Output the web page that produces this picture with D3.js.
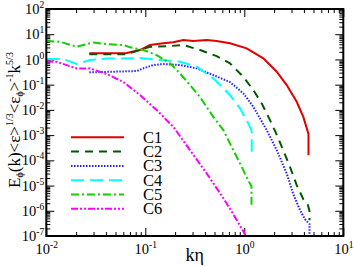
<!DOCTYPE html>
<html>
<head>
<meta charset="utf-8">
<script src="https://cdn.jsdelivr.net/npm/d3@7"></script>
<style>
  body { margin: 0; background: #fff; }
  text { font-family: "Liberation Serif", "Times New Roman", serif; }
</style>
</head>
<body>
<svg></svg>
<script>
const width = 354;
const height = 266;

// data (k eta, compensated spectrum)
const names = ["C1", "C2", "C3", "C4", "C5", "C6"];
const colors = ["#e00000", "#005a00", "#2020ff", "#00ffff", "#10d000", "#ff00ff"];
const dashes = ["none", "8,6", "1.5,1.5", "13,6", "8,3,2,3", "7,2,2,2,2,2"];

const c1k = [0.0272, 0.044, 0.0649, 0.0884, 0.1115, 0.152, 0.1918, 0.2419, 0.3053, 0.4171, 0.5262, 0.717, 1.057, 1.556, 2.125, 2.681, 3.383, 3.945, 4.33, 4.45, 4.45];
const c1e = [1.75, 1.75, 1.79, 2.36, 3.73, 4.35, 4.77, 5.89, 5.37, 5.89, 5.37, 4.35, 2.76, 1.106, 0.325, 0.0964, 0.021, 0.0053, 0.00158, 0.0011, 1.6e-4];

const c2k = [0.0272, 0.0639, 0.0787, 0.1115, 0.1776, 0.2419, 0.357, 0.526, 0.717, 0.977, 1.233, 1.499, 1.818, 2.09, 2.40, 2.894, 3.383, 3.945, 4.40, 4.556, 4.556];
const c2e = [1.59, 1.59, 2.06, 3.19, 3.40, 3.73, 2.36, 1.36, 0.70, 0.206, 0.0611, 0.0181, 0.00394, 0.0012, 3.34e-4, 5.52e-5, 1.04e-5, 2.89e-6, 1.67e-6, 9.64e-7, 4.23e-7];

const c3k = [0.0272, 0.0819, 0.0955, 0.1204, 0.152, 0.2241, 0.3305, 0.486, 0.717, 0.977, 1.233, 1.684, 2.125, 2.681, 3.126, 3.653, 4.104, 4.556, 4.556];
const c3e = [0.308, 0.347, 0.443, 0.60, 0.657, 0.60, 0.443, 0.240, 0.127, 0.0452, 0.0133, 0.00158, 2.54e-4, 3.02e-5, 4.56e-6, 1.06e-6, 4.64e-7, 2.94e-7, 1e-7];

const c4k = [0.01, 0.01475, 0.0203, 0.0276, 0.0408, 0.0595, 0.0884, 0.152, 0.2241, 0.3305, 0.486, 0.614, 0.717, 0.905, 1.098, 1.188, 1.188];
const c4e = [1.037, 1.037, 0.657, 0.947, 1.086, 1.086, 1.137, 0.947, 0.81, 0.513, 0.178, 0.0713, 0.0387, 0.0115, 0.00291, 0.00144, 2.17e-4];

const c5k = [0.01, 0.01375, 0.0203, 0.0298, 0.0408, 0.06, 0.0701, 0.0955, 0.1303, 0.1776, 0.2241, 0.2828, 0.357, 0.486, 0.614, 0.774, 0.941, 1.09, 1.182, 1.182];
const c5e = [5.37, 5.04, 3.19, 4.68, 4.08, 3.73, 3.02, 2.36, 1.495, 0.70, 0.281, 0.0964, 0.0322, 0.00532, 0.00158, 2.54e-4, 5.52e-5, 1.64e-5, 9.47e-6, 1.67e-6];

const c6k = [0.01, 0.01274, 0.0203, 0.0276, 0.0408, 0.06, 0.0884, 0.1303, 0.1918, 0.2828, 0.4171, 0.614, 0.774, 0.977, 1.028];
const c6e = [0.825, 0.81, 0.435, 0.443, 0.263, 0.127, 0.0387, 0.00982, 0.00214, 2.54e-4, 3.02e-5, 3.16e-6, 7.33e-7, 1.55e-7, 1e-7];

const xMajor = [0.01, 0.1, 1, 10];
const yMajor = [1e-7, 1e-6, 1e-5, 1e-4, 1e-3, 1e-2, 1e-1, 1, 10, 100];

const series = [[c1k, c1e], [c2k, c2e], [c3k, c3e], [c4k, c4e], [c5k, c5e], [c6k, c6e]];

const svg = d3.select("svg").attr("width", width).attr("height", height);

const pLeft = 46.3, pRight = 343.3, pTop = 9, pBottom = 236;

const x = d3.scaleLog().domain([0.01, 10]).range([pLeft, pRight]);
const y = d3.scaleLog().domain([1e-7, 100]).range([pBottom, pTop]);

function minors(lo, hi) {
  const out = [];
  for (let e = lo; e < hi; e++) {
    for (let m = 2; m <= 9; m++) out.push(m * Math.pow(10, e));
  }
  return out;
}

function supLabels(g, size) {
  g.selectAll(".tick text").each(function (d) {
    const t = d3.select(this).text(null).attr("font-size", size).attr("fill", "#000");
    t.append("tspan").text("10");
    t.append("tspan").attr("dy", -6).attr("font-size", size * 0.66).text(String(Math.round(Math.log10(d))));
  });
}

function styleAxis(g) {
  g.select(".domain").remove();
  g.selectAll("line").attr("stroke", "#000").attr("stroke-width", 1);
}

// bottom
const gx = svg.append("g").attr("transform", `translate(0,${pBottom})`)
  .call(d3.axisBottom(x).tickValues(xMajor).tickSize(-8).tickPadding(7.5));
styleAxis(gx);
supLabels(gx, 14.5);
svg.append("g").attr("transform", `translate(0,${pBottom})`)
  .call(d3.axisBottom(x).tickValues(minors(-2, 1)).tickSize(-4).tickFormat(""))
  .call(styleAxis);

// top
svg.append("g").attr("transform", `translate(0,${pTop})`)
  .call(d3.axisTop(x).tickValues(xMajor).tickSize(-8).tickFormat(""))
  .call(styleAxis);
svg.append("g").attr("transform", `translate(0,${pTop})`)
  .call(d3.axisTop(x).tickValues(minors(-2, 1)).tickSize(-4).tickFormat(""))
  .call(styleAxis);

// left
const gy = svg.append("g").attr("transform", `translate(${pLeft},0)`)
  .call(d3.axisLeft(y).tickValues(yMajor).tickSize(-8).tickPadding(2));
styleAxis(gy);
supLabels(gy, 14.5);
svg.append("g").attr("transform", `translate(${pLeft},0)`)
  .call(d3.axisLeft(y).tickValues(minors(-7, 2)).tickSize(-4).tickFormat(""))
  .call(styleAxis);

// right
svg.append("g").attr("transform", `translate(${pRight},0)`)
  .call(d3.axisRight(y).tickValues(yMajor).tickSize(-8).tickFormat(""))
  .call(styleAxis);
svg.append("g").attr("transform", `translate(${pRight},0)`)
  .call(d3.axisRight(y).tickValues(minors(-7, 2)).tickSize(-4).tickFormat(""))
  .call(styleAxis);

svg.append("clipPath").attr("id", "plot")
  .append("rect").attr("x", pLeft).attr("y", pTop).attr("width", pRight - pLeft).attr("height", pBottom - pTop);

const line = d3.line().x(d => x(d[0])).y(d => y(d[1]));

svg.append("g").attr("clip-path", "url(#plot)")
  .selectAll("path")
  .data(series)
  .enter()
  .append("path")
  .attr("d", s => line(s[0].map((k, i) => [k, s[1][i]])))
  .attr("fill", "none")
  .attr("stroke", (s, i) => colors[i])
  .attr("stroke-width", 2)
  .attr("stroke-dasharray", (s, i) => dashes[i]);

// frame
svg.append("rect")
  .attr("x", pLeft).attr("y", pTop)
  .attr("width", pRight - pLeft).attr("height", pBottom - pTop)
  .attr("fill", "none").attr("stroke", "#000").attr("stroke-width", 2);

// legend
const legend = svg.append("g");
names.forEach(function (n, i) {
  const ly = 137.3 + i * 14.3;
  legend.append("line")
    .attr("x1", 71).attr("x2", 124).attr("y1", ly).attr("y2", ly)
    .attr("stroke", colors[i]).attr("stroke-width", 2)
    .attr("stroke-dasharray", dashes[i]);
  legend.append("text")
    .attr("x", 143).attr("y", ly + 5.5)
    .attr("font-size", 16.5)
    .text(n);
});

// axis titles
svg.append("text")
  .attr("x", (pLeft + pRight) / 2).attr("y", 261)
  .attr("text-anchor", "middle").attr("font-size", 18)
  .text("kη");

const yl = svg.append("text")
  .attr("transform", "translate(20,120) rotate(-90)")
  .attr("text-anchor", "middle").attr("font-size", 17);
yl.append("tspan").text("E");
yl.append("tspan").attr("font-size", 10).attr("dy", 3).text("ϕ");
yl.append("tspan").attr("dy", -3).text("(k)<ε>");
yl.append("tspan").attr("font-size", 10).attr("dy", -7).text("1/3");
yl.append("tspan").attr("dy", 7).text("<ε");
yl.append("tspan").attr("font-size", 10).attr("dy", 3).text("ϕ");
yl.append("tspan").attr("dy", -3).text(">");
yl.append("tspan").attr("font-size", 10).attr("dy", -7).text("-1");
yl.append("tspan").attr("dy", 7).text("k");
yl.append("tspan").attr("font-size", 10).attr("dy", -7).text("5/3");
</script>
</body>
</html>
